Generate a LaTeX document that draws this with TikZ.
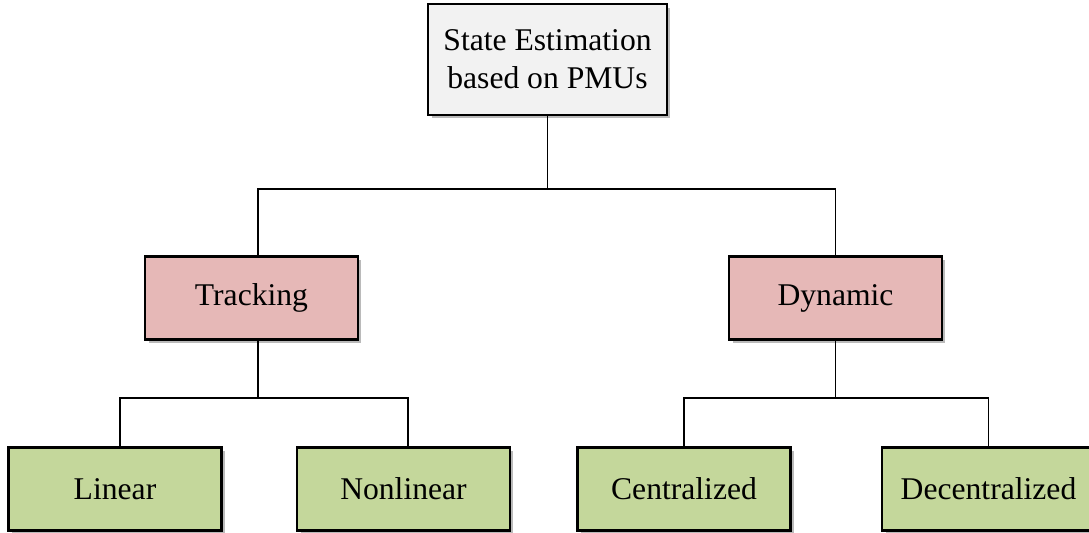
\documentclass[tikz,border=0pt]{standalone}
\usepackage{fontspec}
\setmainfont{Liberation Serif}
\usepackage{tikz}
\usetikzlibrary{shadows}

\definecolor{rootgray}{HTML}{F2F2F2}
\definecolor{methodpink}{HTML}{E6B8B7}
\definecolor{typegreen}{HTML}{C4D79B}

\begin{document}
\begin{tikzpicture}[x=0.02cm, y=-0.02cm, line width=1.1pt,
    box/.style={draw=black, line width=1.3pt, minimum width=4.26cm, minimum height=1.66cm,
                align=center, font=\fontsize{18}{21.5}\selectfont,
                drop shadow={shadow xshift=0.07cm, shadow yshift=-0.07cm, opacity=0.45, fill=black!60}},
    link/.style={draw=black}]

\useasboundingbox (0, 0) rectangle (1089, 533);

% draw boxes
\node[box, fill=rootgray, minimum width=4.78cm, minimum height=2.22cm] (root) at (547.5, 59.5) {State Estimation\\based on PMUs};

\node[box, fill=methodpink] (track) at (251.5, 298) {Tracking};
\node[box, fill=methodpink] (dyn) at (835.5, 298) {Dynamic};

\node[box, fill=typegreen] (lin) at (115, 489) {Linear};
\node[box, fill=typegreen] (nonlin) at (403.5, 489) {Nonlinear};
\node[box, fill=typegreen] (cent) at (684, 489) {Centralized};
\node[box, fill=typegreen] (decent) at (988.5, 489) {Decentralized};

% draw connectors
\draw[link] (root.south) |- (547.5, 189) -| ([xshift=0.13cm]track.north);
\draw[link] (root.south) |- (547.5, 189) -| (dyn.north);

\draw[link] ([xshift=0.13cm]track.south) |- (258, 398) -| ([xshift=0.1cm]lin.north);
\draw[link] ([xshift=0.13cm]track.south) |- (258, 398) -| ([xshift=0.09cm]nonlin.north);

\draw[link] (dyn.south) |- (835.5, 398) -| (cent.north);
\draw[link] (dyn.south) |- (835.5, 398) -| (decent.north);

\end{tikzpicture}
\end{document}
